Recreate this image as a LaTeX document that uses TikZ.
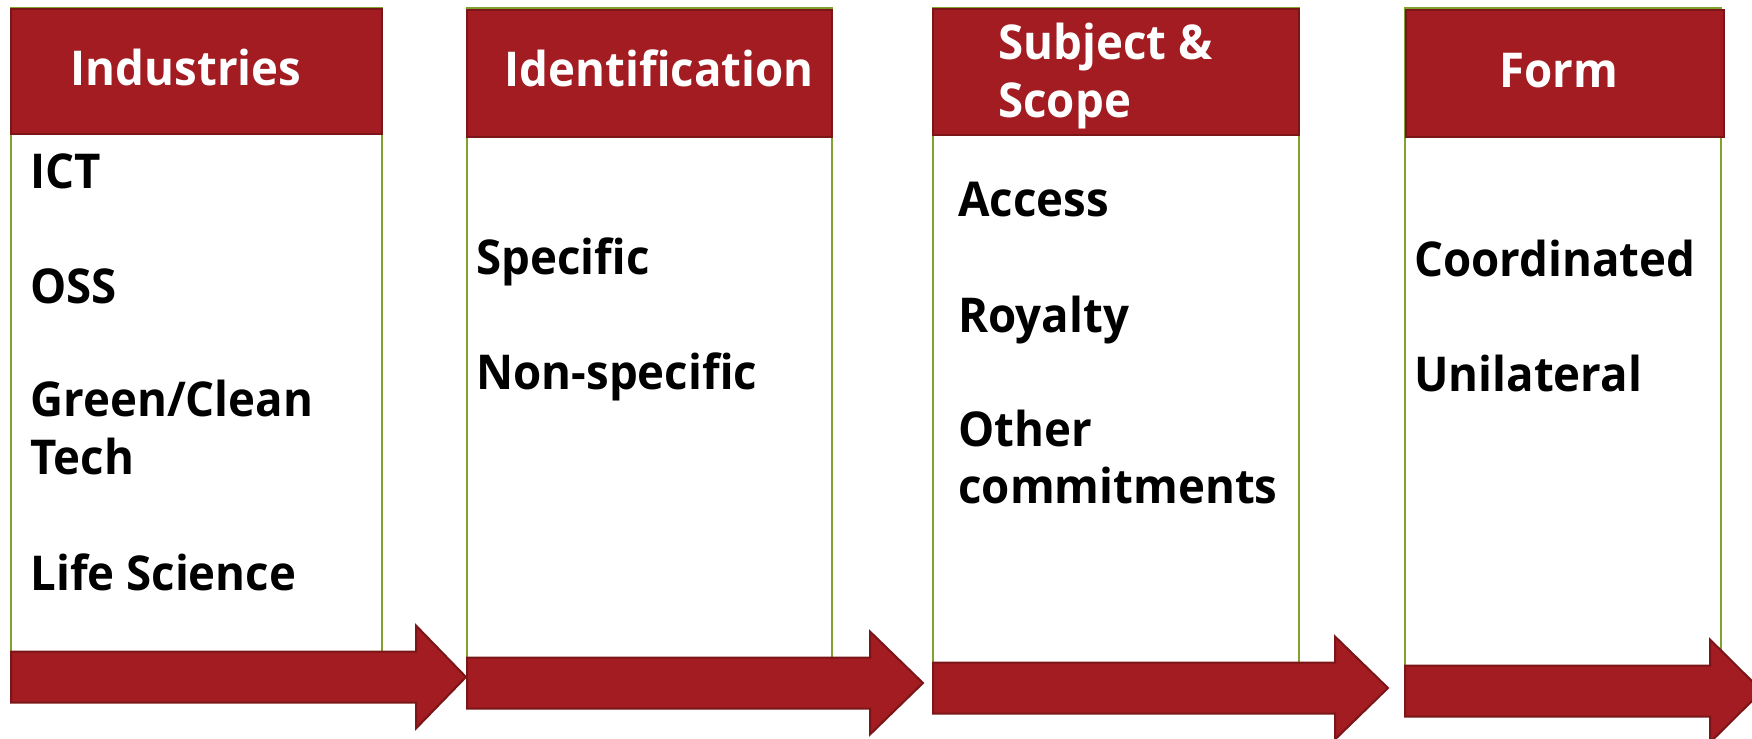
\documentclass[tikz,border=0pt]{standalone}
\usepackage{fontspec}
\setmainfont{Open Sans}[FakeStretch=0.95]
\definecolor{hdrred}{HTML}{A21C21}
\definecolor{hdrline}{HTML}{7A1518}
\definecolor{boxgreen}{HTML}{7FA32E}
\tikzset{
  hdrbox/.style={fill=hdrred, draw=hdrline, line width=1pt},
  bodybox/.style={fill=white, draw=boxgreen, line width=1.3pt},
  flowarrow/.style={fill=hdrred, draw=hdrline, line width=1pt, line join=miter},
  hdrtext/.style={text=white, font=\bfseries\fontsize{24}{28}\selectfont, inner sep=0pt, anchor=base},
  hdrtextL/.style={hdrtext, anchor=base west},
  itemtext/.style={text=black, font=\bfseries\fontsize{24}{28}\selectfont, inner sep=0pt, anchor=base west}
}
\newcommand{\flowarr}[4]{% x0, x1 (head start), xtip, ymid
  \draw[flowarrow] (#1,#4-25.5) -- (#2,#4-25.5) -- (#2,#4-51.5) -- (#3,#4) -- (#2,#4+51.5) -- (#2,#4+25.5) -- (#1,#4+25.5) -- cycle;}
\begin{document}
\begin{tikzpicture}[x={(0.5pt,0)}, y={(0,-0.5pt)}]
\useasboundingbox (0,0) rectangle (1752,739);
\clip (0,0) rectangle (1752,739);
% column bodies
\draw[bodybox] (11,8) rectangle (382,680);
\draw[bodybox] (467,8) rectangle (832,682);
\draw[bodybox] (933,8) rectangle (1299,688);
\draw[bodybox] (1405,8) rectangle (1721,692);
% headers
\draw[hdrbox] (11,9) rectangle (382,134);
\draw[hdrbox] (467,10) rectangle (832,137);
\draw[hdrbox] (933,9) rectangle (1299,135);
\draw[hdrbox] (1406,10) rectangle (1724,137);
% arrows
\flowarr{11}{416}{466}{677}
\flowarr{467}{870}{923}{683}
\flowarr{933}{1335}{1388}{688}
\flowarr{1405}{1710}{1762}{691}
% header texts
\node[hdrtext] (h1) at (186,85) {Industries};
\node[hdrtext] (h2) at (659,86) {Identification};
\node[hdrtextL] (h3a) at (998,59) {Subject \&};
\node[hdrtextL] (h3b) at (998,117) {Scope};
\node[hdrtext] (h4) at (1559,87) {Form};
% column 1
\node[itemtext] (c1a) at (30,188) {ICT};
\node[itemtext] (c1b) at (30,303) {OSS};
\node[itemtext] (c1c) at (30,416) {Green/Clean};
\node[itemtext] (c1d) at (30,474) {Tech};
\node[itemtext] (c1e) at (30,590) {Life Science};
% column 2
\node[itemtext] (c2a) at (476,274) {Specific};
\node[itemtext] (c2b) at (476,389) {Non-specific};
% column 3
\node[itemtext] (c3a) at (958,216) {Access};
\node[itemtext] (c3b) at (958,332) {Royalty};
\node[itemtext] (c3c) at (958,446) {Other};
\node[itemtext] (c3d) at (958,503) {commitments};
% column 4
\node[itemtext] (c4a) at (1414,276) {Coordinated};
\node[itemtext] (c4b) at (1414,391) {Unilateral};
\end{tikzpicture}
\end{document}
